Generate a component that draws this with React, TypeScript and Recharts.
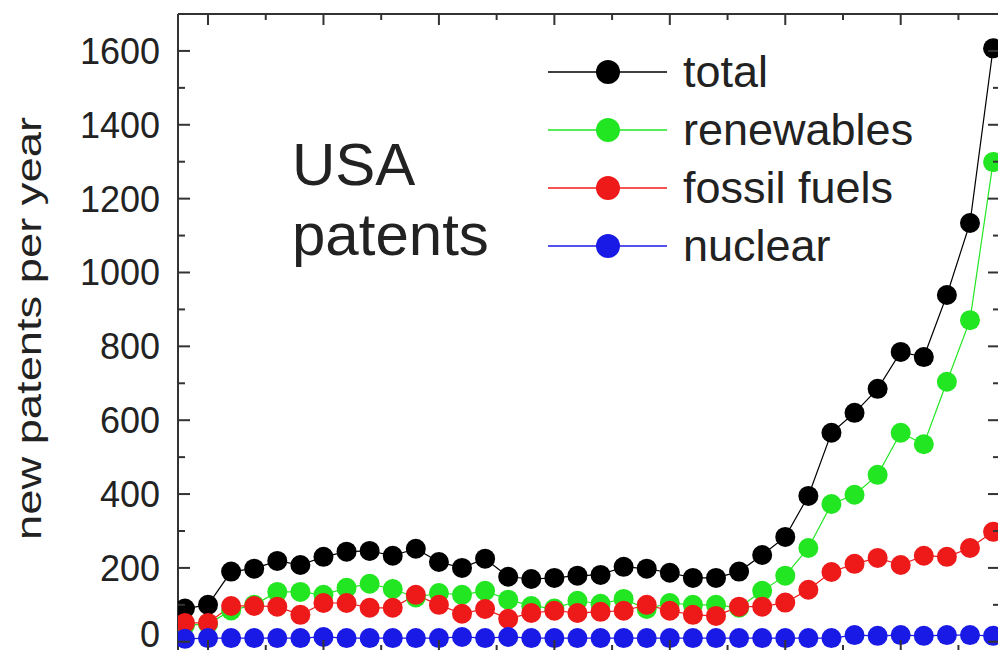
import { Line, LineChart, XAxis, YAxis } from "recharts";

const years = [
  1979, 1980, 1981, 1982, 1983, 1984, 1985, 1986, 1987, 1988, 1989, 1990,
  1991, 1992, 1993, 1994, 1995, 1996, 1997, 1998, 1999, 2000, 2001, 2002,
  2003, 2004, 2005, 2006, 2007, 2008, 2009, 2010, 2011, 2012, 2013, 2014,
];
const total = [
  90, 100, 190, 198, 219, 208, 230, 244, 246, 233, 252, 216, 200, 225, 176,
  170, 173, 179, 181, 203, 198, 187, 173, 173, 190, 235, 284, 395, 566, 620,
  685, 785, 771, 939, 1134, 1607,
];
const renewables = [
  45, 48, 85, 100, 135, 135, 127, 146, 157, 143, 120, 132, 127, 138, 114, 97,
  90, 111, 103, 116, 89, 105, 100, 100, 92, 138, 179, 254, 373, 398, 452, 566,
  535, 704, 871, 1299,
];
const fossilFuels = [
  51, 51, 97, 97, 95, 73, 105, 105, 92, 92, 127, 100, 76, 89, 62, 78, 84, 78,
  81, 84, 100, 84, 73, 70, 95, 95, 106, 141, 189, 211, 227, 208, 233, 230, 254,
  298,
];
const nuclear = [
  8, 10, 10, 10, 10, 10, 13, 10, 10, 10, 10, 10, 13, 10, 13, 10, 10, 10, 10,
  10, 10, 10, 10, 10, 10, 10, 10, 10, 10, 18, 16, 18, 16, 18, 18, 16,
];

const seriesKeys = ["total", "renewables", "fossil", "nuclear"];
const seriesNames = ["total", "renewables", "fossil fuels", "nuclear"];
const seriesColors = ["#000000", "#22e622", "#ee1a1a", "#1a1ae6"];

const yTicks = [
  0, 100, 200, 300, 400, 500, 600, 700, 800, 900, 1000, 1100, 1200, 1300, 1400,
  1500, 1600,
];
const xTicks = [
  1980, 1982.5, 1985, 1987.5, 1990, 1992.5, 1995, 1997.5, 2000, 2002.5, 2005,
  2007.5, 2010, 2012.5,
];

const FONT = "'Liberation Sans', Arial, sans-serif";
const AXIS = "#333333";

function LeftTick({ x, y, payload }: any) {
  const major = payload.value % 200 === 0;
  // the "0" label sits at the bottom edge of the picture, lift it so it stays visible
  const dy = payload.value === 0 ? "0.15em" : "0.36em";
  return (
    <g>
      <line x1={x} x2={x + (major ? 12 : 7)} y1={y} y2={y} stroke={AXIS} strokeWidth={2} />
      {major && (
        <text x={x - 18} y={y} dy={dy} textAnchor="end" fontSize={36} fontFamily={FONT} fill="#222">
          {payload.value}
        </text>
      )}
    </g>
  );
}

function RightTick({ x, y, payload }: any) {
  const major = payload.value % 200 === 0;
  return <line x1={x} x2={x - (major ? 12 : 7)} y1={y} y2={y} stroke={AXIS} strokeWidth={2} />;
}

function TopTick({ x, y, payload }: any) {
  const major = payload.value % 5 === 0;
  return <line x1={x} x2={x} y1={y} y2={y + (major ? 11 : 6)} stroke={AXIS} strokeWidth={2} />;
}

function BottomTick({ x, y, payload }: any) {
  const major = payload.value % 5 === 0;
  return <line x1={x} x2={x} y1={y} y2={y - (major ? 11 : 6)} stroke={AXIS} strokeWidth={2} />;
}

function YLabel({ viewBox }: any) {
  const cx = 41;
  const cy = viewBox ? viewBox.y + viewBox.height / 2 - 4 : 328;
  return (
    <text
      x={cx}
      y={cy}
      transform={`rotate(-90 ${cx} ${cy})`}
      textAnchor="middle"
      fontSize={35}
      fontFamily={FONT}
      fill="#222"
      textLength={423}
      lengthAdjust="spacingAndGlyphs"
    >
      new patents per year
    </text>
  );
}

export default function App() {
  const data = years.map((year, i) => ({
    year,
    total: total[i],
    renewables: renewables[i],
    fossil: fossilFuels[i],
    nuclear: nuclear[i],
  }));

  return (
    <div
      style={{
        position: "absolute",
        left: 0,
        top: 0,
        width: 998,
        height: 650,
        overflow: "hidden",
        background: "#fff",
        fontFamily: FONT,
      }}
    >
      <LineChart width={1020} height={700} data={data} margin={{ top: 0, right: 0, bottom: 0, left: 0 }}>
        <XAxis
          dataKey="year"
          type="number"
          domain={[1978.7, 2014.3]}
          allowDataOverflow
          ticks={xTicks}
          interval={0}
          height={49}
          tickSize={0}
          tickMargin={0}
          tickLine={false}
          axisLine={{ stroke: AXIS, strokeWidth: 2 }}
          tick={BottomTick}
        />
        <XAxis
          xAxisId="top"
          orientation="top"
          dataKey="year"
          type="number"
          domain={[1978.7, 2014.3]}
          allowDataOverflow
          ticks={xTicks}
          interval={0}
          height={14}
          tickSize={0}
          tickMargin={0}
          tickLine={false}
          axisLine={{ stroke: AXIS, strokeWidth: 2 }}
          tick={TopTick}
        />
        <YAxis
          type="number"
          domain={[-25, 1700]}
          allowDataOverflow
          ticks={yTicks}
          interval={0}
          width={178}
          tickSize={0}
          tickMargin={0}
          tickLine={false}
          axisLine={{ stroke: AXIS, strokeWidth: 2 }}
          tick={LeftTick}
          label={<YLabel />}
        />
        <YAxis
          yAxisId="right"
          orientation="right"
          type="number"
          domain={[-25, 1700]}
          allowDataOverflow
          ticks={yTicks}
          interval={0}
          width={20}
          tickSize={0}
          tickMargin={0}
          tickLine={false}
          axisLine={{ stroke: AXIS, strokeWidth: 2 }}
          tick={RightTick}
        />
        {seriesKeys.map((key, i) => (
          <Line
            key={key}
            type="linear"
            dataKey={key}
            name={seriesNames[i]}
            stroke={seriesColors[i]}
            strokeWidth={1.2}
            dot={{ r: 10, fill: seriesColors[i], stroke: "none", strokeWidth: 0 }}
            activeDot={false}
            isAnimationActive={false}
          />
        ))}
      </LineChart>

      {/* in-plot title */}
      <div
        style={{
          position: "absolute",
          left: 292,
          top: 130,
          fontSize: 60,
          lineHeight: "70px",
          color: "#222",
        }}
      >
        USA
        <br />
        patents
      </div>

      {/* legend */}
      <div style={{ position: "absolute", left: 548, top: 43 }}>
        {seriesNames.map((name, i) => (
          <div key={name} style={{ display: "flex", alignItems: "center", height: 58 }}>
            <svg width={120} height={58}>
              <line x1={0} x2={119} y1={29} y2={29} stroke={seriesColors[i]} strokeWidth={1.5} />
              <circle cx={60} cy={29} r={12} fill={seriesColors[i]} />
            </svg>
            <span style={{ marginLeft: 15, fontSize: 45, lineHeight: "58px", color: "#222" }}>{name}</span>
          </div>
        ))}
      </div>
    </div>
  );
}
